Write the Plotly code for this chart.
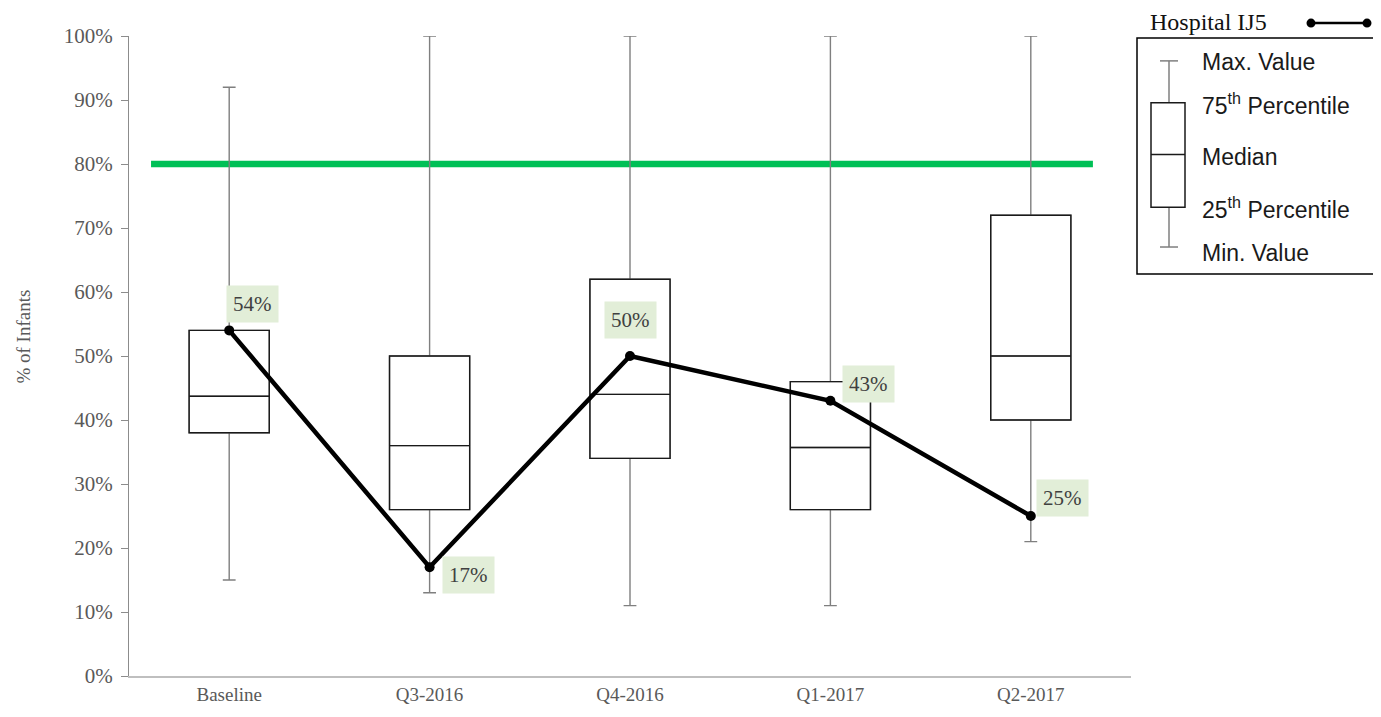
import plotly.graph_objects as go

# ---------------- data ----------------
CATEGORIES = ["Baseline", "Q3-2016", "Q4-2016", "Q1-2017", "Q2-2017"]
MIN_VAL = [15, 13, 11, 11, 21]
Q1_VAL = [38, 26, 34, 26, 40]
MEDIAN_VAL = [43.7, 36, 44, 35.7, 50]
Q3_VAL = [54, 50, 62, 46, 72]
MAX_VAL = [92, 100, 100, 100, 100]
HOSPITAL_IJ5 = [54, 17, 50, 43, 25]
HOSPITAL_LABELS = ["54%", "17%", "50%", "43%", "25%"]
TARGET = 80
Y_TICKS = [0, 10, 20, 30, 40, 50, 60, 70, 80, 90, 100]
Y_TICK_LABELS = [f"{v}%" for v in Y_TICKS]

# ---------------- geometry (page pixels; page body has an 8px margin) ----------------
BODY = 8
PAGE_W, PAGE_H = 1381, 717
W, H = PAGE_W - BODY, PAGE_H - BODY
PLOT_L, PLOT_R, PLOT_T, PLOT_B = 129, 1131, 36, 679   # page pixel plot area
L, T = PLOT_L - BODY, PLOT_T - BODY
R = W - (PLOT_R - BODY)
B = H - (PLOT_B - BODY)
PW, PH = PLOT_R - PLOT_L, PLOT_B - PLOT_T


def px(x):
    return (x - PLOT_L) / PW


def py(y):
    return (PLOT_B - y) / PH


SERIF = "Liberation Serif, Times New Roman, serif"
SANS = "Liberation Sans, Arial, sans-serif"
GRAY_TXT = "#595959"

fig = go.Figure()

# whiskers (gray) + box (black) overlaid
fig.add_trace(go.Box(
    x=CATEGORIES, q1=Q1_VAL, median=MEDIAN_VAL, q3=Q3_VAL,
    lowerfence=MIN_VAL, upperfence=MAX_VAL,
    width=0.4, whiskerwidth=0.16, boxpoints=False,
    line=dict(color="#7f7f7f", width=1.4), fillcolor="white",
    hoverinfo="skip", showlegend=False,
))
fig.add_trace(go.Box(
    x=CATEGORIES, q1=Q1_VAL, median=MEDIAN_VAL, q3=Q3_VAL,
    lowerfence=Q1_VAL, upperfence=Q3_VAL,
    width=0.4, whiskerwidth=0.0, boxpoints=False,
    line=dict(color="#1a1a1a", width=1.4), fillcolor="rgba(255,255,255,0)",
    hoverinfo="skip", showlegend=False,
))

# target line
fig.add_shape(type="line", xref="x", yref="y", x0=-0.39, x1=4.31,
              y0=TARGET, y1=TARGET, line=dict(color="#00c056", width=6.5), layer="below")

# hospital line
fig.add_trace(go.Scatter(
    x=CATEGORIES, y=HOSPITAL_IJ5, mode="lines+markers",
    line=dict(color="black", width=4.5),
    marker=dict(color="black", size=10),
    hoverinfo="skip", showlegend=False,
))

# data labels
label_offsets = [(23, 26), (39, -8), (0, 36), (38, 17), (32, 18)]
for cat, val, lab, (dx, dy) in zip(CATEGORIES, HOSPITAL_IJ5, HOSPITAL_LABELS, label_offsets):
    fig.add_annotation(
        x=cat, y=val, text=lab, showarrow=False, xanchor="center", yanchor="middle",
        xshift=dx, yshift=dy, bgcolor="#e2eed8", borderpad=6,
        font=dict(family=SERIF, size=21, color="#404040"),
    )

# y-axis title
fig.add_annotation(xref="paper", yref="paper", x=px(24), y=py(338), text="% of Infants",
                   textangle=-90, showarrow=False, xanchor="center", yanchor="middle",
                   font=dict(family=SERIF, size=19, color=GRAY_TXT))

# ---------------- custom legend ----------------
fig.add_annotation(xref="paper", yref="paper", x=px(1148), y=py(22), text="Hospital IJ5",
                   showarrow=False, xanchor="left", yanchor="middle",
                   font=dict(family=SERIF, size=24, color="#111111"))
fig.add_shape(type="line", xref="paper", yref="paper", x0=px(1311), x1=px(1367),
              y0=py(23), y1=py(23), line=dict(color="black", width=2.5))
for cx in (1311, 1367):
    fig.add_shape(type="circle", xref="paper", yref="paper",
                  x0=px(cx - 4.5), x1=px(cx + 4.5), y0=py(23 + 4.5), y1=py(23 - 4.5),
                  fillcolor="black", line=dict(color="black", width=0))

fig.add_shape(type="rect", xref="paper", yref="paper", x0=px(1137), x1=px(1378),
              y0=py(275), y1=py(38), line=dict(color="black", width=1.5), fillcolor="white",
              layer="below")
# mini box glyph
g = dict(color="#7f7f7f", width=1.5)
k = dict(color="#1a1a1a", width=1.5)
fig.add_shape(type="line", xref="paper", yref="paper", x0=px(1169), x1=px(1169), y0=py(61), y1=py(103), line=g)
fig.add_shape(type="line", xref="paper", yref="paper", x0=px(1169), x1=px(1169), y0=py(208), y1=py(248), line=g)
fig.add_shape(type="line", xref="paper", yref="paper", x0=px(1160), x1=px(1178), y0=py(61), y1=py(61), line=g)
fig.add_shape(type="line", xref="paper", yref="paper", x0=px(1160), x1=px(1178), y0=py(248), y1=py(248), line=g)
fig.add_shape(type="rect", xref="paper", yref="paper", x0=px(1151), x1=px(1185), y0=py(208), y1=py(103), line=k)
fig.add_shape(type="line", xref="paper", yref="paper", x0=px(1151), x1=px(1185), y0=py(155), y1=py(155), line=k)

legend_items = [("Max. Value", 62), ("75<sup>th</sup> Percentile", 104),
                ("Median", 158), ("25<sup>th</sup> Percentile", 209), ("Min. Value", 254)]
for txt, yy in legend_items:
    fig.add_annotation(xref="paper", yref="paper", x=px(1200), y=py(yy), text=txt,
                       showarrow=False, xanchor="left", yanchor="middle",
                       font=dict(family=SANS, size=23, color="#1a1a1a"))

fig.update_layout(
    width=W, height=H, margin=dict(l=L, r=R, t=T, b=B),
    paper_bgcolor="white", plot_bgcolor="white", boxmode="overlay",
    showlegend=False,
    xaxis=dict(type="category", range=[-0.5, 4.5], showline=True, linecolor="#bfbfbf",
               linewidth=1.5, showgrid=False, zeroline=False, ticks="",
               tickfont=dict(family=SERIF, size=19, color=GRAY_TXT)),
    yaxis=dict(range=[0, 100], tickvals=Y_TICKS, ticktext=Y_TICK_LABELS, showline=True,
               linecolor="#8c8c8c", linewidth=1.2, ticks="outside", ticklen=7,
               tickcolor="#8c8c8c", showgrid=False, zeroline=False, ticklabelstandoff=4,
               tickfont=dict(family=SERIF, size=21, color=GRAY_TXT)),
)

fig.write_html("out.html")
